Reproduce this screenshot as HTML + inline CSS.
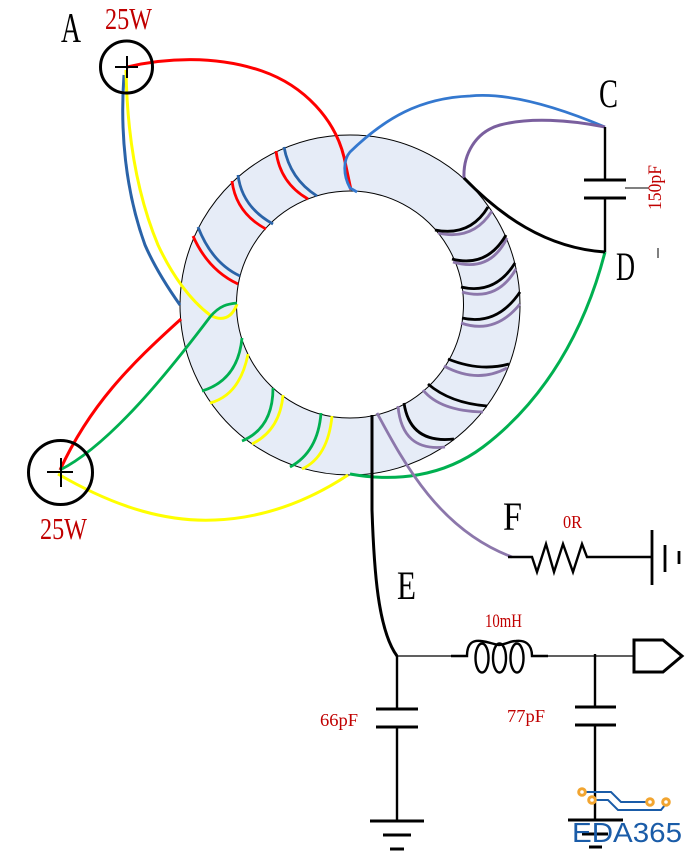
<!DOCTYPE html>
<html>
<head>
<meta charset="utf-8">
<style>
html,body{margin:0;padding:0;background:#fff;width:698px;height:853px;overflow:hidden}
svg{display:block}
text{font-family:"Liberation Serif",serif}
</style>
</head>
<body>
<svg width="698" height="853" viewBox="0 0 698 853" xmlns="http://www.w3.org/2000/svg">
<path d="M350 135a170 170 0 1 0 0.01 0zM350 191a113.5 113.5 0 1 1 -0.01 0z" fill="#e6ecf7" fill-rule="evenodd" stroke="#000" stroke-width="1"/>

<g fill="none" stroke-width="2.800" stroke-linecap="butt">
<g stroke="#ff0000">
<path d="M276 151Q280 183 308 199"/><path d="M232 181Q236 213 266 229"/><path d="M193 236Q208 270 238 284"/>
<path d="M127 67C165 58 215 55 262 71C305 86 335 120 344 157L351 190" stroke-width="3"/>
<path d="M181 319C130 365 90 405 60 470" stroke-width="3"/>
</g>
<g stroke="#2a63a8">
<path d="M284 147Q290 179 317 196"/><path d="M238 175Q242 207 273 224"/><path d="M198 227Q212 263 240 276"/>
<path d="M124 75C120 130 125 190 145 245C155 268 168 288 180 305" stroke-width="3"/>
</g>
<path stroke="#ffff00" d="M126 70C127 130 135 190 158 245C172 275 190 300 210 315C222 322 232 318 237 304" stroke-width="3"/>
<path stroke="#ffff00" d="M58 474C120 510 170 522 215 520C265 518 310 500 348 475" stroke-width="3"/>
<g stroke="#ffff00">
<path d="M248 354Q240 395 210 403"/><path d="M283 395Q280 430 252 444"/><path d="M332 416Q328 457 302 469"/>
</g>
<g stroke="#00b050">
<path d="M242 338Q238 380 202 391"/><path d="M273 388Q273 428 242 441"/><path d="M321 413Q318 452 290 467"/>
<path d="M60 470C110 445 170 370 210 317C220 305 228 304 237 303"/>
<path d="M605 252C585 330 545 400 483 447C443 477 395 482 350 474" stroke-width="3"/>
</g>
<path stroke="#3478cf" d="M605 127C560 108 510 92 470 96C420 98 385 118 350 152C343 160 343 175 350 188L357 192"/>
<path stroke="#7a5f9e" d="M605 127C570 120 530 117 500 125C475 132 463 155 464 178" stroke-width="3"/>
<g stroke="#8c77ab">
<path d="M492 211Q473 241 438 233"/><path d="M507 238Q490 273 453 262"/><path d="M516 269Q497 302 462 292"/><path d="M520 304Q495 335 461 323"/>
<path d="M444 366Q477 384 507 368"/><path d="M423 390Q440 411 483 412"/><path d="M398 406Q402 452 445 447"/>
<path d="M377 413C405 465 440 530 512 557"/>
</g>
<g stroke="#000">
<path d="M488 207Q470 237 435 230"/><path d="M506 235Q487 268 452 259"/><path d="M515 263Q495 295 461 287"/><path d="M520 292Q497 326 462 318"/>
<path d="M448 359Q480 372 509 364"/><path d="M428 384Q450 403 487 406"/><path d="M404 403Q410 444 454 439"/>
<path d="M464 178C500 215 545 248 605 252" stroke-width="3"/>
<path d="M372 415L372 510C374 570 378 630 397 656" stroke-width="3"/>
</g>
</g>

<g fill="none" stroke="#000">
<circle cx="126.500" cy="67" r="26" stroke-width="3"/>
<circle cx="60.500" cy="472.500" r="32" stroke-width="3"/>
<path d="M115 67H138M127 56V78M47 472H73M61 458V487" stroke-width="2"/>

<path d="M605 127V180M605 198V252" stroke-width="2.400"/>
<path d="M584 180H626M584 198H626" stroke-width="3"/>
<path d="M625 188H649M658 248V258" stroke-width="1"/>

<path d="M508 557H532L537 572L546 544L554 572L563 544L573 572L582 544L587 557H652" stroke-width="2.400"/>
<path d="M652 530V585M665 545V572" stroke-width="2.800"/>
<path d="M679 551V564" stroke-width="2.800"/>

<path d="M397 656H451M548 656H634" stroke-width="1.200"/>
<path d="M451 656H467C467 642 474 640 481 641C490 642 492 644 499 645C507 644 510 641 516 641C525 640 532 644 532 656H548" stroke-width="2.400"/>
<ellipse cx="482" cy="658" rx="6.500" ry="14.500" stroke-width="2.400"/>
<ellipse cx="499.500" cy="658" rx="6.500" ry="14.500" stroke-width="2.400"/>
<ellipse cx="517" cy="658" rx="6.500" ry="14.500" stroke-width="2.400"/>
<path d="M634 640H663L682 656L663 672H634Z" stroke-width="3"/>

<path d="M397 656V709M397 727V821" stroke-width="2.400"/>
<path d="M376 709H418M376 727H418M370 821H424M383 835H411M390 849H404" stroke-width="3"/>
<path d="M595 654V707M595 725V820" stroke-width="2.400"/>
<path d="M575 707H616M575 725H616M568 820H623M582 834H608M589 847H602" stroke-width="3"/>
</g>

<g fill="#000">
<text x="61" y="42" font-size="42" textLength="20" lengthAdjust="spacingAndGlyphs">A</text>
<text x="599" y="107" font-size="40" textLength="19" lengthAdjust="spacingAndGlyphs">C</text>
<text x="616" y="280" font-size="40" textLength="19" lengthAdjust="spacingAndGlyphs">D</text>
<text x="503" y="530" font-size="40" textLength="19" lengthAdjust="spacingAndGlyphs">F</text>
<text x="397" y="599" font-size="40" textLength="19" lengthAdjust="spacingAndGlyphs">E</text>
</g>
<g fill="#c00000">
<text x="105" y="29" font-size="31" textLength="47" lengthAdjust="spacingAndGlyphs">25W</text>
<text x="40" y="539" font-size="31" textLength="47" lengthAdjust="spacingAndGlyphs">25W</text>
<text x="563" y="528" font-size="18" textLength="19" lengthAdjust="spacingAndGlyphs">0R</text>
<text x="485" y="627" font-size="19" textLength="37" lengthAdjust="spacingAndGlyphs">10mH</text>
<text x="320" y="726" font-size="18" textLength="38" lengthAdjust="spacingAndGlyphs">66pF</text>
<text x="507" y="722" font-size="18" textLength="38" lengthAdjust="spacingAndGlyphs">77pF</text>
<text transform="translate(661 210) rotate(-90)" x="0" y="0" font-size="19" textLength="45" lengthAdjust="spacingAndGlyphs">150pF</text>
</g>

<g fill="none" stroke="#1a5ca8" stroke-width="2">
<path d="M586 792H611L621 802H647"/>
<path d="M596 800H608L618 810H661L665 805"/>
</g>
<g fill="#fff" stroke="#f2a530" stroke-width="3">
<circle cx="582" cy="792" r="3.300"/><circle cx="592" cy="800" r="3.300"/><circle cx="650" cy="802" r="3.300"/><circle cx="666" cy="802" r="3.300"/>
</g>
<text x="572" y="842" font-size="28" textLength="110" lengthAdjust="spacingAndGlyphs" fill="#1a5ca8" style='font-family:"Liberation Sans",sans-serif'>EDA365</text>
</svg>
</body>
</html>
